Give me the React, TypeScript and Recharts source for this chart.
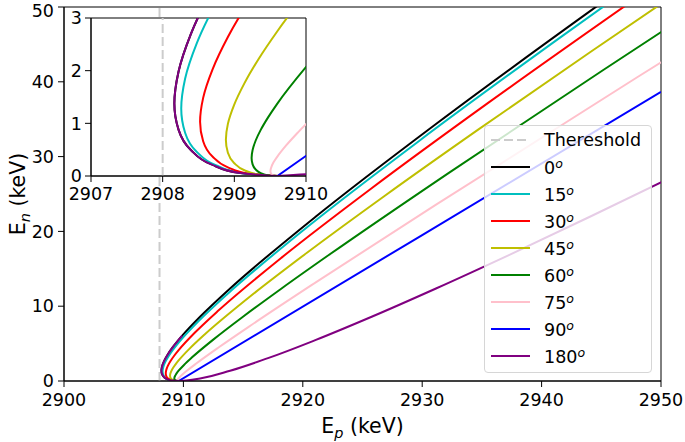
import { LineChart, Line, XAxis, YAxis, ReferenceLine, ReferenceArea, Legend } from 'recharts'

const FONT = '"DejaVu Sans", sans-serif'
const FONT_SIZE = 17.5
const LABEL_SIZE = 20.5

const ANGLES = ['0', '15', '30', '45', '60', '75', '90', '180']
const COLORS = ['#000000', '#00bfbf', '#ff0000', '#bfbf00', '#008000', '#ffc0cb', '#0000ff', '#800080']
const THRESHOLD = 2908
const THRESHOLD_COLOR = '#cccccc'

const MAIN_X_TICKS = [2900, 2910, 2920, 2930, 2940, 2950]
const MAIN_Y_TICKS = [0, 10, 20, 30, 40, 50]
const INSET_X_TICKS = [2907, 2908, 2909, 2910]
const INSET_Y_TICKS = [0, 1, 2, 3]

// [Ep, En] in keV, read along each curve from the lower branch round the nose and up
const curve0 = [
  [2909.6, 0], [2909.083, 0.055], [2908.68, 0.22], [2908.393, 0.495], [2908.221, 0.88], [2908.163, 1.375],
  [2908.221, 1.979], [2908.393, 2.694], [2908.68, 3.519], [2909.083, 4.453], [2909.6, 5.498], [2909.902, 6.062],
  [2911.396, 8.591], [2913.911, 12.371], [2921.096, 21.992], [2931.154, 34.363], [2944.087, 49.482], [2945.54, 51.15],
]
const curve15 = [
  [2909.6, 0], [2909.117, 0.051], [2908.742, 0.205], [2908.474, 0.462], [2908.313, 0.821], [2908.259, 1.282],
  [2908.313, 1.847], [2908.474, 2.514], [2908.742, 3.283], [2909.117, 4.155], [2909.6, 5.13], [2911.276, 8.015],
  [2913.622, 11.542], [2920.326, 20.519], [2929.711, 32.061], [2941.777, 46.168], [2945.92, 50.9],
]
const curve30 = [
  [2909.6, 0], [2909.212, 0.041], [2908.91, 0.165], [2908.695, 0.371], [2908.565, 0.66], [2908.522, 1.031],
  [2908.565, 1.484], [2908.695, 2.021], [2908.91, 2.639], [2909.212, 3.34], [2909.6, 4.124], [2910.947, 6.443],
  [2912.833, 9.278], [2918.222, 16.494], [2925.766, 25.772], [2935.465, 37.112], [2947.32, 50.513],
]
const curve45 = [
  [2909.6, 0], [2909.341, 0.027], [2909.14, 0.11], [2908.996, 0.247], [2908.91, 0.44], [2908.882, 0.687],
  [2908.91, 0.99], [2908.996, 1.347], [2909.14, 1.759], [2909.341, 2.227], [2909.6, 2.749], [2910.498, 4.295],
  [2911.755, 6.185], [2915.348, 10.996], [2920.377, 17.181], [2926.844, 24.741], [2934.747, 33.675],
  [2944.087, 43.984], [2950.381, 50.829],
]
const curve60 = [
  [2909.6, 0], [2909.471, 0.014], [2909.37, 0.055], [2909.298, 0.124], [2909.255, 0.22], [2909.241, 0.344],
  [2909.255, 0.495], [2909.298, 0.674], [2909.37, 0.88], [2909.471, 1.113], [2909.6, 1.375], [2910.049, 2.148],
  [2910.678, 3.093], [2912.474, 5.498], [2914.989, 8.591], [2918.222, 12.371], [2922.173, 16.838],
  [2932.232, 27.834], [2945.165, 41.579], [2952.709, 49.482],
]
const curve75 = [
  [2909.6, 0], [2909.565, 0.004], [2909.538, 0.015], [2909.519, 0.033], [2909.508, 0.059], [2909.504, 0.092],
  [2909.508, 0.133], [2909.519, 0.18], [2909.538, 0.236], [2909.565, 0.298], [2909.6, 0.368], [2909.72, 0.575],
  [2909.889, 0.829], [2910.37, 1.473], [2911.044, 2.302], [2912.969, 4.512], [2915.664, 7.458],
  [2921.151, 13.259], [2931.162, 23.571], [2948.007, 40.605], [2951.954, 44.564],
]
const curve90 = [[2909.6, 0], [2930, 19.513], [2950, 38.644]]
const curve180 = [
  [2909.6, 0], [2910.232, 0.055], [2911.396, 0.344], [2913.911, 1.375], [2917.144, 3.093], [2921.096, 5.498],
  [2925.766, 8.591], [2931.154, 12.371], [2937.262, 16.838], [2944.087, 21.992], [2950.065, 26.61],
]
// the 180° trace also runs round the threshold nose, on top of the 0° curve
const nose180 = curve0.slice(0, 12)

const toPoints = (c: number[][]) => c.map(([x, y]) => ({ x, y }))

const SERIES = [
  { id: 'a0', pts: toPoints(curve0), color: COLORS[0] },
  { id: 'a15', pts: toPoints(curve15), color: COLORS[1] },
  { id: 'a30', pts: toPoints(curve30), color: COLORS[2] },
  { id: 'a45', pts: toPoints(curve45), color: COLORS[3] },
  { id: 'a60', pts: toPoints(curve60), color: COLORS[4] },
  { id: 'a75', pts: toPoints(curve75), color: COLORS[5] },
  { id: 'a90', pts: toPoints(curve90), color: COLORS[6] },
  { id: 'a180', pts: toPoints(curve180), color: COLORS[7] },
  { id: 'a180n', pts: toPoints(nose180), color: COLORS[7] },
]

const tickStyle = { fill: '#000', fontSize: FONT_SIZE, fontFamily: FONT }

function renderLines() {
  return SERIES.map((s) => (
    <Line
      key={s.id}
      data={s.pts}
      dataKey="y"
      type="monotoneY"
      stroke={s.color}
      strokeWidth={2}
      dot={false}
      activeDot={false}
      isAnimationActive={false}
      legendType="none"
    />
  ))
}

const xLabel = () => (
  <text x={362.5} y={433} textAnchor="middle" fontFamily={FONT} fontSize={LABEL_SIZE} fill="#000">
    E<tspan dy={5} fontSize={14.5} fontStyle="italic">p</tspan>
    <tspan dy={-5}> (keV)</tspan>
  </text>
)

const yLabel = () => (
  <text x={25} y={194} transform="rotate(-90 25 194)" textAnchor="middle" fontFamily={FONT} fontSize={LABEL_SIZE} fill="#000">
    E<tspan dy={5} fontSize={14.5} fontStyle="italic">n</tspan>
    <tspan dy={-5}> (keV)</tspan>
  </text>
)

function Handle({ color, dashed }: { color: string; dashed?: boolean }) {
  return (
    <svg width={40} height={6} style={{ display: 'block' }}>
      <line x1={0} x2={39} y1={3} y2={3} stroke={color} strokeWidth={2} strokeDasharray={dashed ? '9 4' : undefined} />
    </svg>
  )
}

function LegendBox() {
  const row = { display: 'flex', alignItems: 'center', height: 26.9 }
  return (
    <div
      style={{
        width: 168,
        height: 248,
        boxSizing: 'border-box',
        background: 'rgba(255,255,255,0.8)',
        border: '1px solid #d6d6d6',
        borderRadius: 4,
        fontFamily: FONT,
        fontSize: FONT_SIZE,
        color: '#000',
        paddingTop: 1,
        paddingLeft: 6,
      }}
    >
      <div style={row}>
        <Handle color={THRESHOLD_COLOR} dashed />
        <span style={{ marginLeft: 13 }}>Thereshold</span>
      </div>
      {ANGLES.map((a, i) => (
        <div key={a} style={row}>
          <Handle color={COLORS[i]} />
          <span style={{ marginLeft: 13 }}>
            {a}
            <sup style={{ fontStyle: 'italic', fontSize: 12.5, verticalAlign: 6 }}>o</sup>
          </span>
        </div>
      ))}
    </div>
  )
}

export default function App() {
  return (
    <div style={{ position: 'absolute', left: 0, top: 0, width: 685, height: 442, background: '#fff' }}>
      <LineChart width={685} height={442} margin={{ top: 7, right: 24, bottom: 0, left: 20 }}>
        <XAxis
          type="number"
          dataKey="x"
          domain={[2900, 2950]}
          ticks={MAIN_X_TICKS}
          allowDataOverflow
          height={61}
          tick={tickStyle}
          tickMargin={7}
          tickLine={{ stroke: '#000' }}
          axisLine={{ stroke: '#000' }}
          label={xLabel}
        />
        <YAxis
          type="number"
          domain={[0, 50]}
          ticks={MAIN_Y_TICKS}
          allowDataOverflow
          width={44}
          tick={tickStyle}
          tickMargin={4}
          tickLine={{ stroke: '#000' }}
          axisLine={{ stroke: '#000' }}
          label={yLabel}
        />
        <ReferenceArea x1={2900} x2={2950} y1={0} y2={50} fill="none" stroke="#000" strokeWidth={1} />
        <ReferenceLine x={THRESHOLD} stroke={THRESHOLD_COLOR} strokeWidth={2} strokeDasharray="9 4" />
        {renderLines()}
        <Legend
          content={() => <LegendBox />}
          layout="horizontal"
          verticalAlign="middle"
          align="center"
          wrapperStyle={{ left: 484, top: 125, width: 168 }}
        />
      </LineChart>

      <div style={{ position: 'absolute', left: 0, top: 0 }}>
        <LineChart width={330} height={215} margin={{ top: 18, right: 24, bottom: 0, left: 60 }}>
          <XAxis
            type="number"
            dataKey="x"
            domain={[2907, 2910]}
            ticks={INSET_X_TICKS}
            allowDataOverflow
            height={39}
            tick={tickStyle}
            tickMargin={6}
            tickLine={{ stroke: '#000' }}
            axisLine={{ stroke: '#000' }}
          />
          <YAxis
            type="number"
            domain={[0, 3]}
            ticks={INSET_Y_TICKS}
            allowDataOverflow
            width={31}
            tick={tickStyle}
            tickMargin={3}
            tickLine={{ stroke: '#000' }}
            axisLine={{ stroke: '#000' }}
          />
          <ReferenceArea x1={2907} x2={2910} y1={0} y2={3} fill="#fff" fillOpacity={1} stroke="#000" strokeWidth={1} />
          <ReferenceLine x={THRESHOLD} stroke={THRESHOLD_COLOR} strokeWidth={2} strokeDasharray="9 4" />
          {renderLines()}
        </LineChart>
      </div>
    </div>
  )
}
